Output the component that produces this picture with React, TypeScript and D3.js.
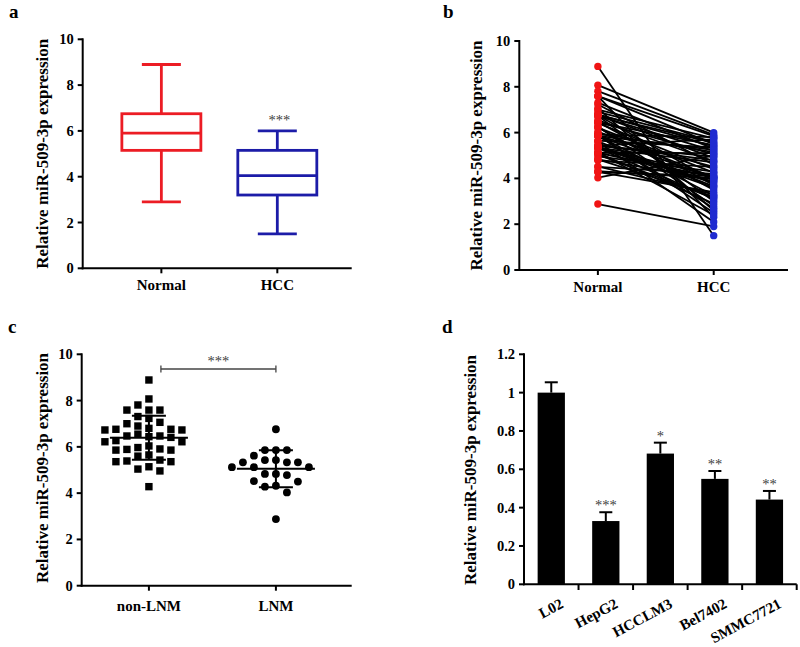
import React from 'react';
import * as d3 from 'd3';

// ---------- Data ----------
const groupsAB = ['Normal', 'HCC'];
const boxMin = [2.9, 1.5];
const boxQ1 = [5.15, 3.2];
const boxMedian = [5.9, 4.05];
const boxQ3 = [6.75, 5.15];
const boxMax = [8.9, 6.0];
const boxColors = ['#ec1c24', '#1c1ca8'];
const boxStars = ['', '***'];

const groupsC = ['non-LNM', 'LNM'];
const nonLNM = [
  8.89, 8.07, 7.81, 7.59, 7.59, 7.59, 7.31, 7.23, 7.0, 7.06,
  6.8, 6.76, 6.73, 6.73, 6.76, 6.9, 6.41, 6.22, 6.47, 6.27,
  6.22, 6.44, 6.47, 6.55, 6.04, 5.91, 5.86, 5.86, 5.89, 5.97,
  5.39, 5.36, 5.6, 5.65, 5.36, 5.43, 5.04, 4.96, 5.14, 4.28,
];
const LNM = [
  6.76, 5.86, 5.86, 5.86, 5.62, 5.43, 5.33, 5.33, 5.12, 5.12,
  5.12, 5.33, 5.43, 4.83, 4.78, 4.83, 4.5, 4.52, 4.28, 4.03,
  4.32, 2.88,
];
const normalPaired = [...nonLNM, ...LNM];
const hccPaired = [
  1.5, 6.0, 5.9, 5.5, 2.3, 5.85, 5.3, 4.6, 5.75, 2.6,
  5.4, 3.9, 5.2, 3.0, 4.9, 5.6, 4.4, 3.5, 5.05, 2.8,
  4.25, 5.45, 3.7, 4.75, 4.05, 5.8, 3.25, 4.5, 2.5, 5.15,
  3.85, 4.1, 2.1, 5.35, 3.6, 4.8, 3.15, 4.3, 2.4, 3.4,
  5.55, 4.0, 2.7, 5.25, 3.65, 4.95, 3.1, 4.7, 2.9, 5.1,
  4.05, 3.8, 5.7, 3.2, 4.5, 3.95, 4.2, 3.3, 4.1, 5.0,
  4.0, 1.9,
];

const cellLines = ['L02', 'HepG2', 'HCCLM3', 'Bel7402', 'SMMC7721'];
const cellMeans = [1.0, 0.33, 0.682, 0.55, 0.442];
const cellErr = [0.054, 0.046, 0.057, 0.041, 0.045];
const cellStars = ['', '***', '*', '**', '**'];

const yTicks10 = [0, 2, 4, 6, 8, 10];
const yTicksD = [0, 0.2, 0.4, 0.6, 0.8, 1, 1.2];

const TITLE = 'Relative miR-509-3p expression';
const FONT = '"Liberation Serif", "Times New Roman", serif';

// ---------- Helpers ----------
function YAxis({ scale, ticks, x, fmt }: any) {
  const [d0, d1] = scale.domain();
  return (
    <g>
      <line x1={x} x2={x} y1={scale(d0) + 1} y2={scale(d1) - 1} stroke="#000" strokeWidth={2} />
      {ticks.map((t: number) => (
        <g key={t}>
          <line x1={x - 5} x2={x} y1={scale(t)} y2={scale(t)} stroke="#000" strokeWidth={2} />
          <text x={x - 9} y={scale(t)} dy="0.35em" textAnchor="end" fontSize={14.5} fontWeight="bold">
            {fmt ? fmt(t) : t}
          </text>
        </g>
      ))}
    </g>
  );
}

function XAxisCats({ scale, y, x0, x1, labelY }: any) {
  return (
    <g>
      <line x1={x0 - 1} x2={x1} y1={y} y2={y} stroke="#000" strokeWidth={2} />
      {scale.domain().map((c: string) => (
        <g key={c}>
          <line x1={scale(c)} x2={scale(c)} y1={y} y2={y + 5} stroke="#000" strokeWidth={2} />
          <text x={scale(c)} y={labelY} textAnchor="middle" fontSize={15} fontWeight="bold">{c}</text>
        </g>
      ))}
    </g>
  );
}

function YTitle({ x, y }: any) {
  return (
    <text transform={`translate(${x},${y}) rotate(-90)`} textAnchor="middle" fontSize={17} fontWeight="bold">
      {TITLE}
    </text>
  );
}

function swarm(values: number[], cx: number, y: any, step: number, minDy: number) {
  const order = values.map((_, i) => i).sort((a, b) => values[b] - values[a]);
  const placed: { x: number; y: number }[] = [];
  const offs = [0, -1, 1, -2, 2, -3, 3, -4, 4, -5, 5];
  order.forEach((i) => {
    const py = y(values[i]);
    for (const k of offs) {
      const px = cx + k * step;
      if (!placed.some((p) => Math.abs(p.x - px) < step * 0.9 && Math.abs(p.y - py) < minDy)) {
        placed.push({ x: px, y: py });
        break;
      }
    }
  });
  return placed;
}

export default function App() {
  // Panel a
  const xA = d3.scalePoint().domain(groupsAB).range([82.7, 351.7]).padding(0.66).align(0.514);
  const yA = d3.scaleLinear().domain([0, 10]).range([268.3, 39.3]);
  // Panel b
  const xB = d3.scalePoint().domain(groupsAB).range([519.3, 788]).padding(0.66).align(0.514);
  const yB = d3.scaleLinear().domain([0, 10]).range([270, 41]);
  // Panel c
  const xC = d3.scalePoint().domain(groupsC).range([81.7, 351.7]).padding(0.563).align(0.47);
  const yC = d3.scaleLinear().domain([0, 10]).range([585.7, 354.3]);
  // Panel d
  const xD = d3.scaleBand().domain(cellLines).range([524, 796.7]).paddingInner(0.5).paddingOuter(0.25);
  const yD = d3.scaleLinear().domain([0, 1.2]).range([584.3, 354.3]);

  const groupsCData = [nonLNM, LNM];
  const bw = xD.bandwidth();
  const gap = (xD.step() - bw) / 2;

  return (
    <svg width={800} height={647} style={{ position: 'absolute', left: 0, top: 0, background: '#fff' }}
      fontFamily={FONT}>
      <rect width={800} height={647} fill="#fff" />

      {/* ---------- Panel a ---------- */}
      <text x={9} y={18} fontSize={19} fontWeight="bold">a</text>
      <YTitle x={48} y={153.8} />
      {groupsAB.map((g, i) => {
        const cx = xA(g)!;
        const col = boxColors[i];
        return (
          <g key={g} stroke={col} strokeWidth={2.8} fill="none">
            <line x1={cx} x2={cx} y1={yA(boxQ3[i])} y2={yA(boxMax[i])} />
            <line x1={cx} x2={cx} y1={yA(boxQ1[i])} y2={yA(boxMin[i])} />
            <line x1={cx - 19.5} x2={cx + 19.5} y1={yA(boxMax[i])} y2={yA(boxMax[i])} />
            <line x1={cx - 19.5} x2={cx + 19.5} y1={yA(boxMin[i])} y2={yA(boxMin[i])} />
            <rect x={cx - 39.5} width={79} y={yA(boxQ3[i])} height={yA(boxQ1[i]) - yA(boxQ3[i])} />
            <line x1={cx - 39.5} x2={cx + 39.5} y1={yA(boxMedian[i])} y2={yA(boxMedian[i])} />
            {boxStars[i] && (
              <text x={cx + 2} y={yA(boxMax[i]) - 6} textAnchor="middle" fontSize={14.5} fill="#404040" stroke="none">
                {boxStars[i]}
              </text>
            )}
          </g>
        );
      })}
      <YAxis scale={yA} ticks={yTicks10} x={82.7} />
      <XAxisCats scale={xA} y={268.3} x0={82.7} x1={351.7} labelY={290} />

      {/* ---------- Panel b ---------- */}
      <text x={443} y={18} fontSize={19} fontWeight="bold">b</text>
      <YTitle x={482} y={155.5} />
      <g stroke="#000" strokeWidth={1.8}>
        {normalPaired.map((v, i) => (
          <line key={i} x1={xB('Normal')} y1={yB(v)} x2={xB('HCC')} y2={yB(hccPaired[i])} />
        ))}
      </g>
      {normalPaired.map((v, i) => (
        <circle key={'n' + i} cx={xB('Normal')} cy={yB(v)} r={3.7} fill="#f01414" />
      ))}
      {hccPaired.map((v, i) => (
        <circle key={'h' + i} cx={xB('HCC')} cy={yB(v)} r={3.7} fill="#1f2bd0" />
      ))}
      <YAxis scale={yB} ticks={yTicks10} x={519.3} />
      <XAxisCats scale={xB} y={270} x0={519.3} x1={788} labelY={292} />

      {/* ---------- Panel c ---------- */}
      <text x={8} y={333} fontSize={19} fontWeight="bold">c</text>
      <YTitle x={48} y={468} />
      {groupsC.map((g, gi) => {
        const vals = groupsCData[gi];
        const cx = xC(g)!;
        const pts = swarm(vals, cx, yC, 11, 8);
        const m = d3.mean(vals)!;
        const sd = d3.deviation(vals)!;
        return (
          <g key={g}>
            {pts.map((p, i) =>
              gi === 0 ? (
                <rect key={i} x={p.x - 3.7} y={p.y - 3.7} width={7.4} height={7.4} fill="#000" />
              ) : (
                <circle key={i} cx={p.x} cy={p.y} r={3.9} fill="#000" />
              )
            )}
            <g stroke="#000" strokeWidth={2}>
              <line x1={cx - 39} x2={cx + 39} y1={yC(m)} y2={yC(m)} />
              <line x1={cx} x2={cx} y1={yC(m + sd)} y2={yC(m - sd)} />
              <line x1={cx - 17} x2={cx + 17} y1={yC(m + sd)} y2={yC(m + sd)} />
              <line x1={cx - 17} x2={cx + 17} y1={yC(m - sd)} y2={yC(m - sd)} />
            </g>
          </g>
        );
      })}
      <g stroke="#444" strokeWidth={1.3}>
        <line x1={xC('non-LNM')! + 12} x2={xC('LNM')!} y1={369} y2={369} />
        <line x1={xC('non-LNM')! + 12} x2={xC('non-LNM')! + 12} y1={365.5} y2={372.5} />
        <line x1={xC('LNM')!} x2={xC('LNM')!} y1={365.5} y2={372.5} />
      </g>
      <text x={(xC('non-LNM')! + 12 + xC('LNM')!) / 2} y={366} textAnchor="middle" fontSize={14.5} fill="#404040">***</text>
      <YAxis scale={yC} ticks={yTicks10} x={81.7} />
      <XAxisCats scale={xC} y={585.7} x0={81.7} x1={351.7} labelY={610.5} />

      {/* ---------- Panel d ---------- */}
      <text x={442} y={333} fontSize={19} fontWeight="bold">d</text>
      <YTitle x={476} y={470} />
      {cellLines.map((c, i) => {
        const x0 = xD(c)!;
        const cx = x0 + bw / 2;
        const top = yD(cellMeans[i] + cellErr[i]);
        return (
          <g key={c}>
            <rect x={x0} width={bw} y={yD(cellMeans[i])} height={yD(0) - yD(cellMeans[i])} fill="#000" />
            <g stroke="#000" strokeWidth={2}>
              <line x1={cx} x2={cx} y1={yD(cellMeans[i])} y2={top} />
              <line x1={cx - 6.5} x2={cx + 6.5} y1={top} y2={top} />
            </g>
            {cellStars[i] && (
              <text x={cx} y={top - 2} textAnchor="middle" fontSize={14.5} fill="#404040">{cellStars[i]}</text>
            )}
            <text transform={`translate(${cx + 13},${607}) rotate(-28)`} textAnchor="end" fontSize={15} fontWeight="bold">
              {c}
            </text>
          </g>
        );
      })}
      <YAxis scale={yD} ticks={yTicksD} x={524} fmt={(t: number) => d3.format('~g')(t)} />
      <line x1={523} x2={796.7} y1={584.3} y2={584.3} stroke="#000" strokeWidth={2} />
      {cellLines.map((c) => {
        const bx = xD(c)! + bw + gap;
        return <line key={c} x1={bx} x2={bx} y1={584.3} y2={590} stroke="#000" strokeWidth={2} />;
      })}
    </svg>
  );
}
